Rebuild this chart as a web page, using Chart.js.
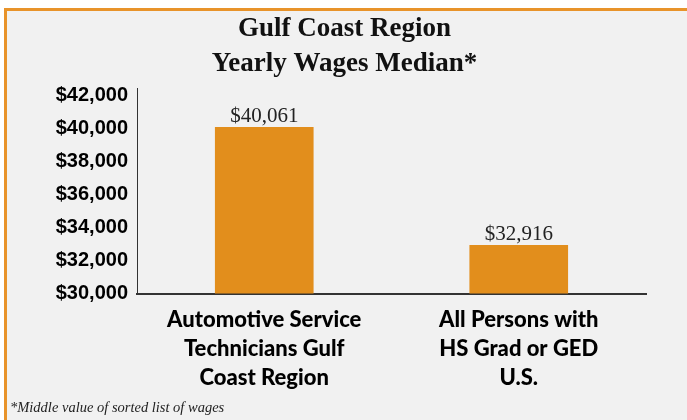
<!DOCTYPE html>
<html>
<head>
<meta charset="utf-8">
<script src="https://cdn.jsdelivr.net/npm/chart.js@4"></script>
<style>
  html, body { margin: 0; padding: 0; background: #fff; overflow: hidden; }
  .frame {
    position: absolute; left: 4px; top: 8px;
    width: 700px; height: 430px;
    border: 3px solid #E8932A;
    background: #F1F1F1;
  }
  #wrap { position: absolute; left: 0; top: 0; width: 680px; height: 409px; }
</style>
</head>
<body>
<div class="frame"><div id="wrap"><canvas id="wageChart"></canvas></div></div>
<script>
// Chart data
const titleLines = ['Gulf Coast Region', 'Yearly Wages Median*'];
const footnote = '*Middle value of sorted list of wages';
const categories = [
    ['Automotive Service', 'Technicians Gulf', 'Coast Region'],
    ['All Persons with', 'HS Grad or GED', 'U.S.']
];
const wages = [40061, 32916];
const yTicks = [30000, 32000, 34000, 36000, 38000, 40000, 42000];

const barColor = '#E28E1C';

// Dollar labels above each bar
const valueLabels = {
    id: 'valueLabels',
    afterDatasetsDraw(chart) {
        const ctx = chart.ctx;
        const meta = chart.getDatasetMeta(0);
        ctx.save();
        ctx.font = '21px "Liberation Serif", serif';
        ctx.fillStyle = '#222';
        ctx.textAlign = 'center';
        ctx.textBaseline = 'alphabetic';
        meta.data.forEach((bar, i) => {
            ctx.fillText('$' + wages[i].toLocaleString('en-US'), bar.x, bar.y - 5);
        });
        ctx.restore();
    }
};

const ctx = document.getElementById('wageChart').getContext('2d');
new Chart(ctx, {
    type: 'bar',
    data: {
        labels: categories,
        datasets: [{
            data: wages,
            backgroundColor: barColor,
            barThickness: 98
        }]
    },
    options: {
        responsive: true,
        maintainAspectRatio: false,
        animation: false,
        layout: { padding: { left: 3, right: 8, top: 0, bottom: 0 } },
        plugins: {
            legend: { display: false },
            tooltip: { enabled: false },
            title: {
                display: true,
                text: titleLines,
                color: '#111',
                font: { family: '"Liberation Serif", serif', size: 27, weight: 'bold', lineHeight: 35 / 27 },
                padding: { top: 1, bottom: 6 }
            },
            subtitle: {
                display: true,
                position: 'bottom',
                align: 'start',
                text: footnote,
                color: '#222',
                font: { family: '"Liberation Serif", serif', size: 14.5, style: 'italic', lineHeight: 1.2 },
                padding: { top: 0, bottom: 3 }
            }
        },
        scales: {
            x: {
                grid: { display: false, drawTicks: false },
                border: { display: true, color: '#333', width: 2 },
                ticks: {
                    color: '#000',
                    padding: 12,
                    maxRotation: 0,
                    autoSkip: false,
                    font: { family: 'Lato, "Liberation Sans", sans-serif', size: 22, weight: 900, lineHeight: 29 / 22 }
                },
                afterFit: s => { s.height = 106; }
            },
            y: {
                min: yTicks[0],
                max: yTicks[yTicks.length - 1] + 450,
                grid: { display: false, drawTicks: false },
                border: { display: true, color: '#333', width: 1 },
                afterBuildTicks: s => { s.ticks = yTicks.map(v => ({ value: v })); },
                ticks: {
                    color: '#000',
                    padding: 9,
                    font: { family: '"Liberation Sans", Arial, sans-serif', size: 20, weight: 'bold' },
                    callback: v => '$' + v.toLocaleString('en-US')
                },
                afterFit: s => { s.width = 127; }
            },
            // empty right-hand axis: keeps the gap right of the plot without shifting the title
            yRight: {
                position: 'right',
                display: true,
                grid: { display: false, drawTicks: false },
                border: { display: false },
                ticks: { display: false },
                afterFit: s => { s.width = 33; }
            }
        }
    },
    plugins: [valueLabels]
});
</script>
</body>
</html>
